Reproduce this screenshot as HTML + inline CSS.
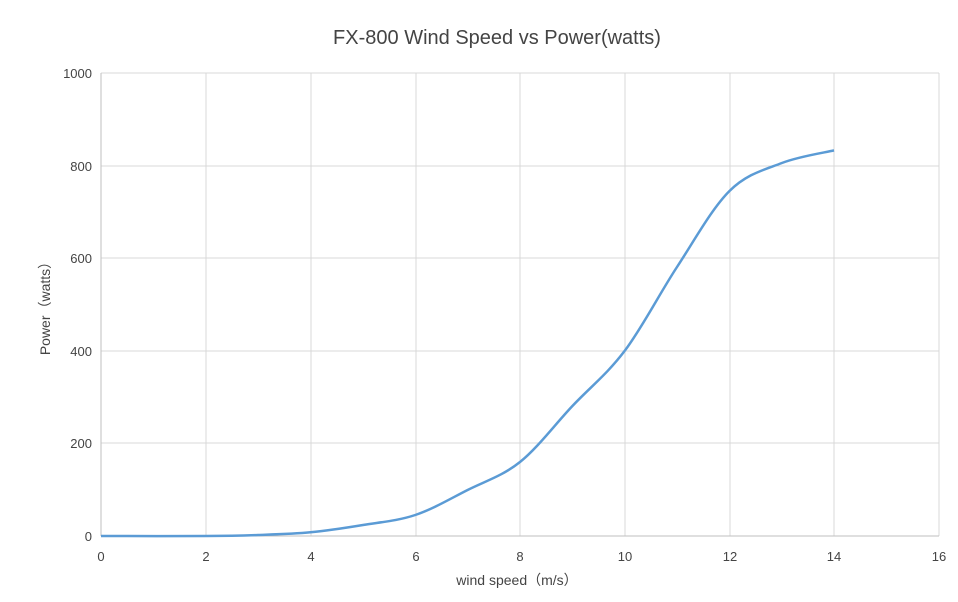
<!DOCTYPE html>
<html><head><meta charset="utf-8"><style>
body{margin:0;background:#fff;}
svg{display:block;font-family:"Liberation Sans","Noto Sans CJK SC",sans-serif;}
</style></head><body>
<svg id="s" width="958" height="602" viewBox="0 0 958 602">
<rect width="958" height="602" fill="#fff"/>
<text x="497" y="44" text-anchor="middle" font-size="20" fill="#444">FX-800 Wind Speed vs Power(watts)</text>
<g stroke="#d9d9d9" stroke-width="1">
<line x1="206" y1="73" x2="206" y2="536"/><line x1="311" y1="73" x2="311" y2="536"/>
<line x1="416" y1="73" x2="416" y2="536"/><line x1="520" y1="73" x2="520" y2="536"/>
<line x1="625" y1="73" x2="625" y2="536"/><line x1="730" y1="73" x2="730" y2="536"/>
<line x1="834" y1="73" x2="834" y2="536"/><line x1="939" y1="73" x2="939" y2="536"/>
<line x1="101" y1="73" x2="939" y2="73"/><line x1="101" y1="166" x2="939" y2="166"/>
<line x1="101" y1="258" x2="939" y2="258"/><line x1="101" y1="351" x2="939" y2="351"/>
<line x1="101" y1="443" x2="939" y2="443"/>
</g>
<line x1="101" y1="73" x2="101" y2="536" stroke="#bfbfbf"/>
<line x1="101" y1="536" x2="939" y2="536" stroke="#bfbfbf"/>
<g font-size="13" fill="#444" text-anchor="end">
<text x="92" y="541">0</text><text x="92" y="448">200</text><text x="92" y="356">400</text>
<text x="92" y="263">600</text><text x="92" y="171">800</text><text x="92" y="78">1000</text>
</g>
<g font-size="13" fill="#444" text-anchor="middle">
<text x="101" y="561">0</text><text x="206" y="561">2</text><text x="311" y="561">4</text>
<text x="416" y="561">6</text><text x="520" y="561">8</text><text x="625" y="561">10</text>
<text x="730" y="561">12</text><text x="834" y="561">14</text><text x="939" y="561">16</text>
</g>
<text x="517" y="585" text-anchor="middle" font-size="14" fill="#444">wind speed（m/s）</text>
<text transform="translate(50,305) rotate(-90)" text-anchor="middle" font-size="14" fill="#444">Power（watts）</text>
<path id="c" fill="none" stroke="#5b9bd5" stroke-width="2.5"/>
</svg>
<script>
var p=[[101,536],[205.75,536],[258,535],[310.5,532.3],[363,525],[415.25,515],[467.6,490],[520,462],[572.4,406],[624.75,350.8],[677,267],[729.5,191],[781.9,163],[834,150.4]];
var d="M"+p[0];
for(var i=0;i<p.length-1;i++){var a=p[i>0?i-1:0],b=p[i],c=p[i+1],e=p[i+2<p.length?i+2:i+1];
var c1=[b[0]+(c[0]-a[0])/6,b[1]+(c[1]-a[1])/6],c2=[c[0]-(e[0]-b[0])/6,c[1]-(e[1]-b[1])/6];
d+=" C"+c1+" "+c2+" "+c;}
document.getElementById("c").setAttribute("d",d);
</script>
</body></html>
